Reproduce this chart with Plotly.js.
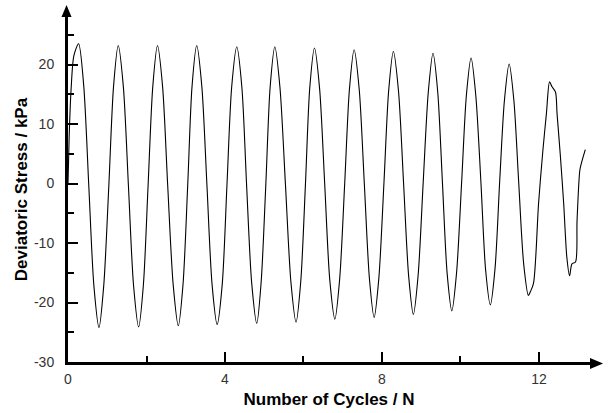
<!DOCTYPE html>
<html>
<head>
<meta charset="utf-8">
<script src="https://cdn.plot.ly/plotly-3.0.1.min.js"></script>
<style>html,body{margin:0;padding:0;background:#fff;}#chart{width:612px;height:413px;}</style>
</head>
<body>
<div id="chart"></div>
<script>
// Number of cycles (N)
const cycles = [
  0, 0.03, 0.08, 0.15, 0.27,
  0.40, 0.53, 0.66, 0.79,
  0.91, 1.04, 1.16, 1.28,
  1.41, 1.54, 1.67, 1.80,
  1.92, 2.04, 2.16, 2.28,
  2.41, 2.54, 2.68, 2.81,
  2.93, 3.05, 3.16, 3.28,
  3.41, 3.54, 3.67, 3.80,
  3.93, 4.05, 4.17, 4.30,
  4.43, 4.55, 4.68, 4.81,
  4.92, 5.04, 5.15, 5.27,
  5.40, 5.54, 5.68, 5.81,
  5.93, 6.05, 6.16, 6.28,
  6.41, 6.54, 6.67, 6.80,
  6.92, 7.05, 7.17, 7.29,
  7.42, 7.55, 7.68, 7.80,
  7.92, 8.05, 8.17, 8.29,
  8.42, 8.55, 8.68, 8.80,
  8.92, 9.05, 9.18, 9.30,
  9.42, 9.54, 9.66, 9.78,
  9.90, 10.03, 10.15, 10.27,
  10.39, 10.52, 10.64, 10.76,
  10.88, 11.00, 11.12, 11.24,
  11.36, 11.48, 11.61, 11.73,
  11.78, 11.86, 11.99, 12.10, 12.19, 12.27, 12.33, 12.42, 12.46,
  12.54, 12.63, 12.71, 12.78, 12.84, 12.93, 12.97, 13.04, 13.08, 13.18
];
// Deviatoric stress (kPa)
const stress = [
  0, 8, 16, 21.5, 23.5,
  16.5, -0.4, -17.2, -24.2,
  -17.2, -0.4, 16.3, 23.2,
  16.3, -0.4, -17.1, -24.1,
  -17.1, -0.4, 16.3, 23.2,
  16.3, -0.3, -17.0, -23.9,
  -17.0, -0.3, 16.3, 23.2,
  16.3, -0.3, -16.9, -23.7,
  -16.9, -0.3, 16.2, 23.0,
  16.2, -0.2, -16.7, -23.5,
  -16.7, -0.2, 16.2, 23.0,
  16.2, -0.1, -16.6, -23.3,
  -16.5, -0.1, 16.1, 22.8,
  16.0, 0, -16.2, -22.8,
  -16.2, 0, 15.8, 22.5,
  15.8, 0, -16.0, -22.5,
  -15.9, 0.1, 15.6, 22.2,
  15.6, 0.1, -15.6, -22.0,
  -15.5, 0.2, 15.4, 21.9,
  15.4, 0.2, -15.1, -21.4,
  -15.0, 0.3, 14.8, 21.1,
  14.8, 0.3, -14.5, -20.4,
  -14.3, 0.5, 14.0, 20.1,
  14.0, 0.6, -13.5, -18.8,
  -18.2, -16.8, -3.3, 5.6, 11.8, 17.1, 16.3, 15.4, 11.8,
  5.1, -3.4, -12.4, -15.5, -13.5, -13.2, -6.2, 2.2, 3.4, 5.7
];
const xTickVals = [0, 4, 8, 12];
const xTickText = ['0', '4', '8', '12'];
const yTickVals = [-30, -20, -10, 0, 10, 20];
const yTickText = ['-30', '-20', '-10', '0', '10', '20'];

const trace = {
  x: cycles, y: stress, type: 'scatter', mode: 'lines',
  line: {color: '#000', width: 1.1, shape: 'spline', smoothing: 0.8},
  hoverinfo: 'skip'
};
const tickFont = {family: 'Liberation Sans, Arial, sans-serif', size: 14, color: '#333'};
const titleFont = {family: 'Liberation Sans, Arial, sans-serif', size: 17, color: '#000', weight: 'bold'};
const layout = {
  width: 612, height: 413,
  margin: {l: 68, r: 22, t: 17, b: 51, pad: 0},
  paper_bgcolor: '#fff', plot_bgcolor: '#fff',
  showlegend: false,
  xaxis: {
    range: [0, 13.3], showgrid: false, zeroline: false,
    showline: true, linecolor: '#000', linewidth: 3,
    tickmode: 'array', tickvals: xTickVals, ticktext: xTickText,
    ticks: 'inside', ticklen: 10, tickwidth: 2, tickcolor: '#000',
    minor: {ticks: 'inside', dtick: 2, tick0: 0, ticklen: 6, tickwidth: 2, tickcolor: '#000', showgrid: false},
    tickfont: tickFont, ticklabelstandoff: 2,
    title: {text: 'Number of Cycles / N', font: titleFont, standoff: 8}
  },
  yaxis: {
    range: [-30, 28], showgrid: false, zeroline: false,
    showline: true, linecolor: '#000', linewidth: 3,
    tickmode: 'array', tickvals: yTickVals, ticktext: yTickText,
    ticks: 'inside', ticklen: 10, tickwidth: 2, tickcolor: '#000',
    minor: {ticks: 'inside', dtick: 5, tick0: 0, ticklen: 6, tickwidth: 2, tickcolor: '#000', showgrid: false},
    tickfont: tickFont, ticklabelstandoff: 8,
    title: {text: 'Deviatoric Stress / kPa', font: titleFont, standoff: 3}
  },
  shapes: [
    {type: 'path', xref: 'paper', yref: 'paper', path: 'M -0.0125 1 L 0.0068 1 L -0.0028 1.035 Z', fillcolor: '#000', line: {width: 0}},
    {type: 'path', xref: 'paper', yref: 'paper', path: 'M 1 -0.0205 L 1 0.0114 L 1.025 -0.0045 Z', fillcolor: '#000', line: {width: 0}}
  ]
};
Plotly.newPlot('chart', [trace], layout, {staticPlot: true, displayModeBar: false});
</script>
</body>
</html>
